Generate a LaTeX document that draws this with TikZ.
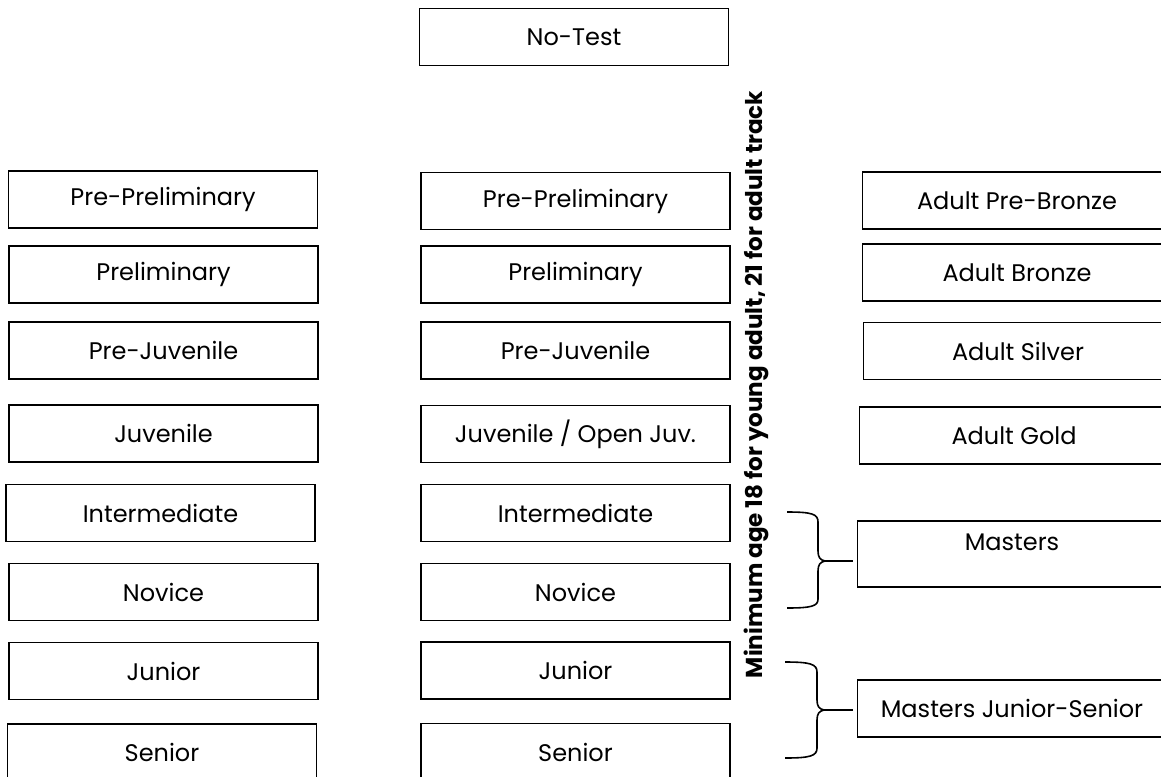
\documentclass[tikz,border=0pt]{standalone}
\usepackage{fontspec}
\setmainfont{Poppins}
\usepackage{xcolor}

\begin{document}
\begin{tikzpicture}[x=0.75pt,y=-0.75pt]
\tikzstyle{every node}+=[inner sep=0pt]
\tikzstyle{box}=[draw=black,line width=1.4pt,minimum width=231.75pt,minimum height=42.75pt,font=\fontsize{18}{24}\selectfont]
\useasboundingbox (0,0) rectangle (1161,776);
\clip (0,0) rectangle (1161,776);
% top
\node [box] (notest) at (574,37) {No-Test};
% left column
\node [box] (lpre) at (163,199.5) {Pre-Preliminary};
\node [box] (lprel) at (163.5,274.5) {Preliminary};
\node [box] (lpjuv) at (163.5,350.5) {Pre-Juvenile};
\node [box] (ljuv) at (163.5,433.5) {Juvenile};
\node [box] (lint) at (160.5,513) {Intermediate};
\node [box] (lnov) at (163.5,592) {Novice};
\node [box] (ljun) at (163.5,671) {Junior};
\node [box] (lsen) at (162,752.5) {Senior};
% middle column
\node [box] (mpre) at (575.5,201) {Pre-Preliminary};
\node [box] (mprel) at (575.5,274.5) {Preliminary};
\node [box] (mpjuv) at (575.5,350.5) {Pre-Juvenile};
\node [box] (mjuv) at (575.5,434) {Juvenile / Open Juv.};
\node [box] (mint) at (575.5,513) {Intermediate};
\node [box] (mnov) at (575.5,592) {Novice};
\node [box] (mjun) at (575.5,670.5) {Junior};
\node [box] (msen) at (575.5,752) {Senior};
% adult column
\node [box] (apbr) at (1017,200.5) {Adult Pre-Bronze};
\node [box] (abr) at (1017,272.5) {Adult Bronze};
\node [box] (asil) at (1018,351) {Adult Silver};
\node [box] (agold) at (1014,435.5) {Adult Gold};
\node [box,minimum height=49.5pt,align=center] (mast) at (1012,554) {Masters\\[-6pt] \mbox{}};
\node [box] (mastjs) at (1012,708.5) {Masters Junior-Senior};
% age note
\node [rotate=90,anchor=base,font=\fontsize{17.3}{22}\selectfont\bfseries] (agenote) at (762,384.5) {Minimum age 18 for young adult, 21 for adult track};
% braces
\coordinate (b1) at (853,561);
\coordinate (b2) at (853,710);
\draw [black,line width=1.2pt] (787,512) .. controls (812,512) and (818,514) .. (818,522) -- (818,551) .. controls (818,557) and (820,560) .. (825,561) .. controls (820,562) and (818,565) .. (818,571) -- (818,599) .. controls (818,606) and (812,608) .. (787,608);
\draw [black,line width=1.6pt] (825,561) -- (b1);
\draw [black,line width=1.2pt] (785,662) .. controls (810,662) and (817,664) .. (817,672) -- (817,700) .. controls (817,706) and (819,709) .. (824,710) .. controls (819,711) and (817,714) .. (817,720) -- (817,748) .. controls (817,756) and (810,758) .. (785,758);
\draw [black,line width=1.6pt] (824,710) -- (b2);
\end{tikzpicture}
\end{document}
